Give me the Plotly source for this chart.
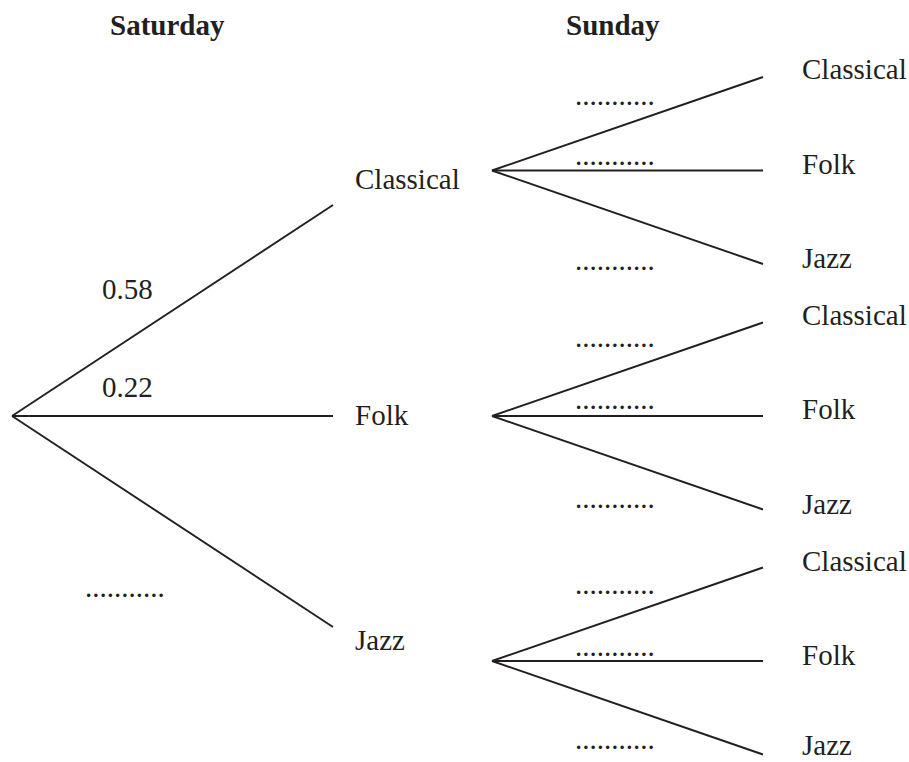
import plotly.graph_objects as go

# ---- data ----
headers = ["Saturday", "Sunday"]
saturday_outcomes = ["Classical", "Folk", "Jazz"]
saturday_probs = ["0.58", "0.22", "..........."]
sunday_outcomes = ["Classical", "Folk", "Jazz"]
sunday_probs = [
    ["...........", "...........", "..........."],
    ["...........", "...........", "..........."],
    ["...........", "...........", "..........."],
]

# ---- layout geometry (pixels in a 909x762 canvas) ----
W, H = 909, 762
ROOT_X, ROOT_Y = 12, 416
L1_END_X = 333
L1_SPREAD = 211
L1_LABEL_X = 353
L1_LABEL_DY = [-26, -1, 13]
L1_PROB_POS = [(127, 289), (127, 387), (125, 587)]
L2_START_X = 492
L2_ROOT_Y = [170.5, 416, 661]
L2_END_X = 763
L2_SPREAD = 93.5
L2_LABEL_X = 800
L2_LABEL_DY = [[-8, -7, -6], [-8, -7, -6], [-7, -6, -10]]
L2_PROB_X = 615
L2_PROB_DY = [[-76, -16, 89], [-79, -17, 82], [-77, -15, 78]]
HEADER_X = [167, 613]
HEADER_Y = 25

FONT = "Liberation Serif, Times New Roman, serif"
FS = 29
INK = "#231f20"
LW = 1.9

fig = go.Figure()

def seg(x0, y0, x1, y1):
    fig.add_trace(go.Scatter(x=[x0, x1], y=[y0, y1], mode="lines",
                             line=dict(color=INK, width=LW),
                             hoverinfo="skip", showlegend=False))

def txt(x, y, s, anchor="center"):
    fig.add_annotation(x=x, y=y, text=s, xanchor=anchor, yanchor="middle",
                       showarrow=False,
                       font=dict(family=FONT, size=FS, color=INK))

# level 1
for i, lab in enumerate(saturday_outcomes):
    ey = ROOT_Y + (i - 1) * L1_SPREAD
    seg(ROOT_X, ROOT_Y, L1_END_X, ey)
    txt(L1_LABEL_X, ey + L1_LABEL_DY[i], lab, "left")
    px, py = L1_PROB_POS[i]
    txt(px, py, saturday_probs[i])

# level 2
for g in range(3):
    ry = L2_ROOT_Y[g]
    for j, lab in enumerate(sunday_outcomes):
        ey = ry + (j - 1) * L2_SPREAD
        seg(L2_START_X, ry, L2_END_X, ey)
        txt(L2_LABEL_X, ey + L2_LABEL_DY[g][j], lab, "left")
        txt(L2_PROB_X, ry + L2_PROB_DY[g][j], sunday_probs[g][j])

for hx, h in zip(HEADER_X, headers):
    txt(hx, HEADER_Y, "<b>" + h + "</b>")

fig.update_layout(
    width=W, height=H,
    margin=dict(l=0, r=0, t=0, b=0),
    paper_bgcolor="white", plot_bgcolor="white",
    xaxis=dict(range=[0, W], visible=False, fixedrange=True),
    yaxis=dict(range=[H, 0], visible=False, fixedrange=True),
)

fig.write_html(
    "out.html",
    config={"displayModeBar": False},
    post_script="document.body.style.margin='0';document.body.style.overflow='hidden';",
)
